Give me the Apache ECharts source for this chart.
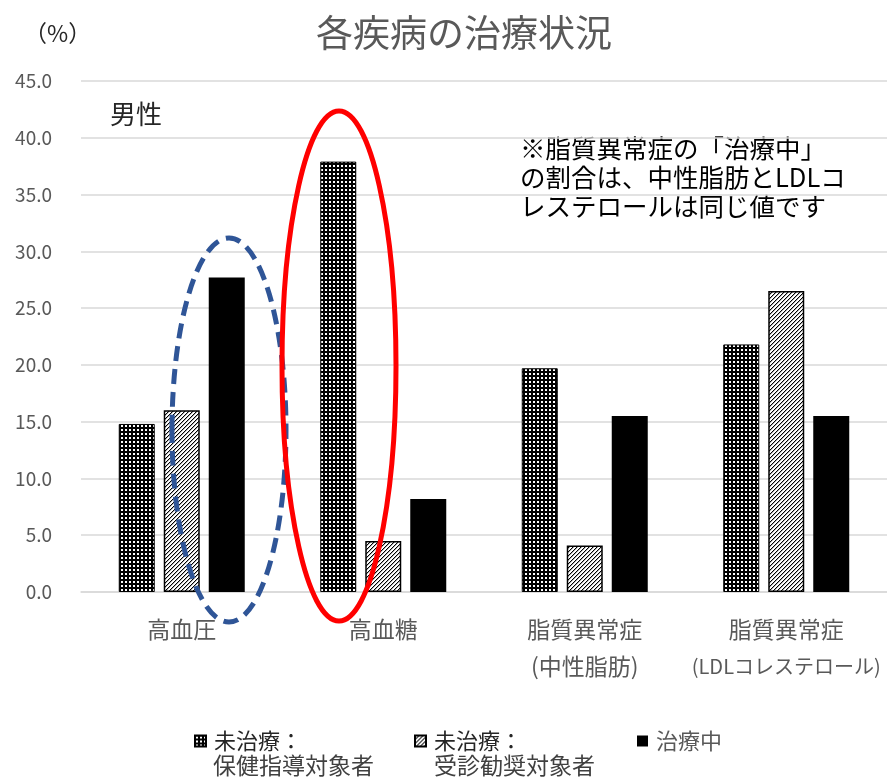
<!DOCTYPE html>
<html>
<head>
<meta charset="utf-8">
<script src="https://cdn.jsdelivr.net/npm/echarts@6/dist/echarts.min.js"></script>
<style>
  html, body { margin: 0; padding: 0; background: #fff; }
  #main { width: 887px; height: 778px; }
</style>
</head>
<body>
<div id="main"></div>
<script>
var categories = ['高血圧', '高血糖', '脂質異常症\n(中性脂肪)', '脂質異常症\n(LDLコレステロール)'];
var seriesNames = ['未治療：保健指導対象者', '未治療：受診勧奨対象者', '治療中'];
var guidance = [14.8, 37.9, 19.7, 21.8];   // 未治療：保健指導対象者
var referral = [16.0, 4.5, 4.1, 26.5];     // 未治療：受診勧奨対象者
var treating = [27.7, 8.2, 15.5, 15.5];    // 治療中
var yTicks = [0, 45, 5];                   // min, max, interval

var FONT = '"Noto Sans CJK JP", "Noto Sans", sans-serif';

// black with white dots
function dotPattern() {
  var c = document.createElement('canvas');
  c.width = 4; c.height = 4;
  var ctx = c.getContext('2d');
  ctx.fillStyle = '#000';
  ctx.fillRect(0, 0, 4, 4);
  ctx.fillStyle = '#fff';
  ctx.fillRect(1, 1, 2, 2);
  return c;
}
// white with black "/" hatch
function hatchPattern() {
  var n = 4;
  var c = document.createElement('canvas');
  c.width = n; c.height = n;
  var ctx = c.getContext('2d');
  ctx.fillStyle = '#fff';
  ctx.fillRect(0, 0, n, n);
  for (var x = 0; x < n; x++) {
    ctx.fillStyle = '#000';
    ctx.fillRect(x, n - 1 - x, 1, 1);
    ctx.fillStyle = '#b0b0b0';
    ctx.fillRect(x, (n - x) % n, 1, 1);
  }
  return c;
}

var myChart = echarts.init(document.getElementById('main'), null, { renderer: 'canvas' });

function legendOf(name, left, label, color) {
  return {
    data: [name],
    left: left,
    top: 729,
    padding: 0,
    itemWidth: 11,
    itemHeight: 11,
    icon: 'rect',
    selectedMode: false,
    formatter: function () { return label; },
    textStyle: {
      fontFamily: FONT,
      fontSize: 22,
      lineHeight: 24,
      color: color,
      padding: [0, 0, 0, 3]
    }
  };
}

var option = {
  backgroundColor: '#fff',
  animation: false,
  title: {
    text: '各疾病の治療状況',
    left: 459,
    textAlign: 'center',
    top: 9,
    textStyle: { fontFamily: FONT, fontSize: 37, fontWeight: 'normal', color: '#595959' }
  },
  legend: [
    legendOf(seriesNames[0], 194, '未治療：', '#262626'),
    legendOf(seriesNames[1], 414, '未治療：', '#262626'),
    legendOf(seriesNames[2], 637, '治療中', '#595959')
  ],
  grid: { left: 81, right: 0, top: 81, bottom: 186, outerBoundsMode: 'none' },
  xAxis: {
    type: 'category',
    data: categories,
    axisLine: { lineStyle: { color: '#d9d9d9', width: 1.5 } },
    axisTick: { show: false },
    axisLabel: {
      margin: 19,
      interval: 0,
      fontFamily: FONT,
      fontSize: 23,
      lineHeight: 37,
      color: '#595959',
      // long second lines are set a bit narrower so they fit the width
      formatter: function (v) {
        var parts = v.split('\n');
        if (parts.length > 1 && parts[1].length > 8) {
          return parts[0] + '\n{s|' + parts[1] + '}';
        }
        return v;
      },
      rich: {
        s: { fontFamily: FONT, fontSize: 20, lineHeight: 37, color: '#595959' }
      }
    }
  },
  yAxis: {
    type: 'value',
    min: yTicks[0],
    max: yTicks[1],
    interval: yTicks[2],
    axisLine: { show: false },
    axisTick: { show: false },
    splitLine: { lineStyle: { color: '#d9d9d9', width: 1.5 } },
    axisLabel: {
      margin: 29,
      fontFamily: FONT,
      fontSize: 19,
      color: '#595959',
      formatter: function (v) { return v.toFixed(1); }
    }
  },
  series: [
    {
      name: seriesNames[0],
      type: 'bar',
      data: guidance,
      barWidth: 36,
      barGap: '25%',
      itemStyle: { color: { image: dotPattern(), repeat: 'repeat' }, borderColor: '#000', borderWidth: 1 }
    },
    {
      name: seriesNames[1],
      type: 'bar',
      data: referral,
      barWidth: 36,
      barGap: '25%',
      itemStyle: { color: { image: hatchPattern(), repeat: 'repeat' }, borderColor: '#000', borderWidth: 1.5 }
    },
    {
      name: seriesNames[2],
      type: 'bar',
      data: treating,
      barWidth: 36,
      barGap: '25%',
      itemStyle: { color: '#000' }
    }
  ],
  graphic: [
    {
      type: 'text', left: 24, top: 22,
      style: { text: '（%）', font: '23px ' + FONT, fill: '#262626' }
    },
    {
      type: 'text', left: 110, top: 101,
      style: { text: '男性', font: '26px ' + FONT, fill: '#262626' }
    },
    {
      type: 'text', left: 520, top: 134,
      style: {
        text: '※脂質異常症の「治療中」\nの割合は、中性脂肪とLDLコ\nレステロールは同じ値です',
        font: '25.5px ' + FONT, lineHeight: 29, fill: '#000'
      }
    },
    {
      type: 'text', left: 213, top: 754,
      style: { text: '保健指導対象者', font: '23px ' + FONT, fill: '#404040' }
    },
    {
      type: 'text', left: 434, top: 754,
      style: { text: '受診勧奨対象者', font: '23px ' + FONT, fill: '#404040' }
    },
    {
      type: 'ellipse', z: 100,
      shape: { cx: 229, cy: 430, rx: 57, ry: 192 },
      style: { fill: 'none', stroke: '#2F5597', lineWidth: 5, lineDash: [15, 8] }
    },
    {
      type: 'ellipse', z: 100,
      shape: { cx: 339, cy: 366, rx: 57, ry: 255 },
      style: { fill: 'none', stroke: '#FF0000', lineWidth: 5 }
    }
  ]
};

myChart.setOption(option);
</script>
</body>
</html>
